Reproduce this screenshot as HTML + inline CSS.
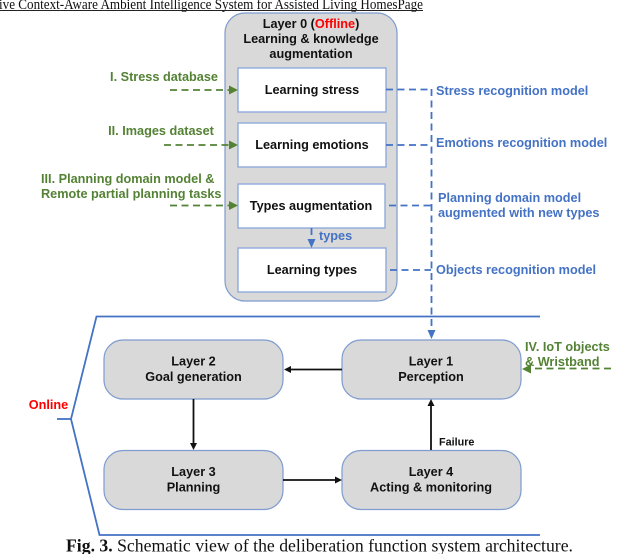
<!DOCTYPE html>
<html>
<head>
<meta charset="utf-8">
<style>
html,body{margin:0;padding:0;background:#fff;width:640px;height:554px;overflow:hidden}
svg{display:block}
text{font-family:"Liberation Sans",sans-serif;font-weight:bold;font-size:12.7px;text-anchor:middle}
.s{font-family:"Liberation Serif",serif;font-weight:normal;font-size:14.6px;text-anchor:start;fill:#111}
.k{fill:#111}
.g{fill:#548235}
.b{fill:#4472c4}
.r{fill:#ff0000}
.st{text-anchor:start}
.box{fill:#d9d9d9;stroke:#7f9bcf;stroke-width:1.2}
.in{fill:#fff;stroke:#8faadc;stroke-width:1.4}
.bd{stroke:#4472c4;stroke-width:1.8;stroke-dasharray:7 4.5;fill:none}
.gd{stroke:#548235;stroke-width:1.8;stroke-dasharray:7 4.5;fill:none}
.bl{stroke:#111;stroke-width:1.8;fill:none}
</style>
</head>
<body>
<svg width="640" height="554" viewBox="0 0 640 554" xmlns="http://www.w3.org/2000/svg">
<text class="s" x="-1" y="9" textLength="424" lengthAdjust="spacingAndGlyphs">ive Context-Aware Ambient Intelligence System for Assisted Living HomesPage</text>
<line x1="0" y1="10.5" x2="423" y2="10.5" stroke="#222" stroke-width="1"/>

<rect class="box" x="225" y="13" width="172" height="288" rx="20" ry="20"/>
<text class="k" x="311" y="28">Layer 0 (<tspan class="r">Offline</tspan>)</text>
<text class="k" x="311" y="43">Learning &amp; knowledge</text>
<text class="k" x="311" y="58">augmentation</text>

<rect class="in" x="238" y="68" width="148" height="44"/>
<rect class="in" x="238" y="123" width="148" height="44"/>
<rect class="in" x="238" y="184" width="147" height="44"/>
<rect class="in" x="238" y="248" width="148" height="44"/>
<text class="k" x="312" y="94">Learning stress</text>
<text class="k" x="312" y="149">Learning emotions</text>
<text class="k" x="311" y="210">Types augmentation</text>
<text class="k" x="312" y="274">Learning types</text>

<!-- green inputs -->
<text class="g" x="164" y="81">I. Stress database</text>
<text class="g" x="161" y="135">II. Images dataset</text>
<text class="g st" x="41" y="183">III. Planning domain model &amp;</text>
<text class="g st" x="41" y="198">Remote partial planning tasks</text>
<line class="gd" x1="170" y1="90" x2="230" y2="90"/>
<path class="g" d="M238 90l-9-4.500v9z"/>
<line class="gd" x1="164" y1="145" x2="230" y2="145"/>
<path class="g" d="M238 145l-9-4.500v9z"/>
<line class="gd" x1="170" y1="205.500" x2="230" y2="205.500"/>
<path class="g" d="M238 205.500l-9-4.500v9z"/>

<!-- types -->
<line class="bd" x1="311.500" y1="228" x2="311.500" y2="241" stroke-dasharray="4 3"/>
<path class="b" d="M311.500 248l-4-9h8z"/>
<text class="b st" x="319" y="240">types</text>

<!-- blue outputs -->
<line class="bd" x1="386" y1="89.500" x2="431" y2="89.500"/>
<line class="bd" x1="386" y1="145" x2="431" y2="145"/>
<line class="bd" x1="389" y1="205.500" x2="431" y2="205.500"/>
<line class="bd" x1="390" y1="270" x2="431" y2="270"/>
<line class="bd" x1="431.500" y1="89" x2="431.500" y2="331" stroke-dasharray="5.500 3.500"/>
<path class="b" d="M431.500 339l-4-9h8z"/>
<text class="b st" x="436" y="95">Stress recognition model</text>
<text class="b st" x="436" y="147">Emotions recognition model</text>
<text class="b st" x="438" y="202">Planning domain model</text>
<text class="b st" x="438" y="217">augmented with new types</text>
<text class="b st" x="436" y="274">Objects recognition model</text>

<!-- online bracket -->
<path d="M540 316.500H96.500L71 419L99.500 535H540" fill="none" stroke="#4472c4" stroke-width="1.8"/>
<line x1="57" y1="419" x2="71" y2="419" stroke="#4472c4" stroke-width="1.8"/>
<text class="r" x="48.500" y="409">Online</text>

<!-- online layers -->
<rect class="box" x="104" y="340" width="179" height="59" rx="19" ry="19"/>
<rect class="box" x="342" y="340" width="179" height="59" rx="19" ry="19"/>
<rect class="box" x="104" y="450.500" width="179" height="59" rx="19" ry="19"/>
<rect class="box" x="342" y="450.500" width="179" height="59" rx="19" ry="19"/>
<text class="k" x="193.500" y="365.500">Layer 2</text>
<text class="k" x="193.500" y="381">Goal generation</text>
<text class="k" x="431" y="365.500">Layer 1</text>
<text class="k" x="431" y="381">Perception</text>
<text class="k" x="193.500" y="476">Layer 3</text>
<text class="k" x="193.500" y="491.500">Planning</text>
<text class="k" x="431" y="476">Layer 4</text>
<text class="k" x="431" y="491.500">Acting &amp; monitoring</text>

<!-- black arrows -->
<line class="bl" x1="342" y1="369.500" x2="289" y2="369.500"/>
<path class="k" d="M284 369.500l7-3.500v7z"/>
<line class="bl" x1="193.500" y1="399" x2="193.500" y2="444"/>
<path class="k" d="M193.500 450l-3.500-7h7z"/>
<line class="bl" x1="283" y1="480" x2="336" y2="480"/>
<path class="k" d="M342 480l-7-3.500v7z"/>
<line class="bl" x1="431" y1="450" x2="431" y2="405"/>
<path class="k" d="M431 399l-3.500 7h7z"/>
<text class="k st" x="439" y="445.500" style="font-size:10.800px">Failure</text>

<!-- IoT -->
<text class="g st" x="525" y="351">IV. IoT objects</text>
<text class="g st" x="525" y="366">&amp; Wristband</text>
<line class="gd" x1="611" y1="368.500" x2="530" y2="368.500"/>
<path class="g" d="M522 369l9-4.500v9z"/>

<!-- caption -->
<text x="66" y="551.500" textLength="507" lengthAdjust="spacingAndGlyphs" style="font-family:'Liberation Serif',serif;font-size:17.700px;font-weight:bold;text-anchor:start;fill:#111">Fig. 3. <tspan style="font-weight:normal">Schematic view of the deliberation function system architecture.</tspan></text>
</svg>
</body>
</html>
